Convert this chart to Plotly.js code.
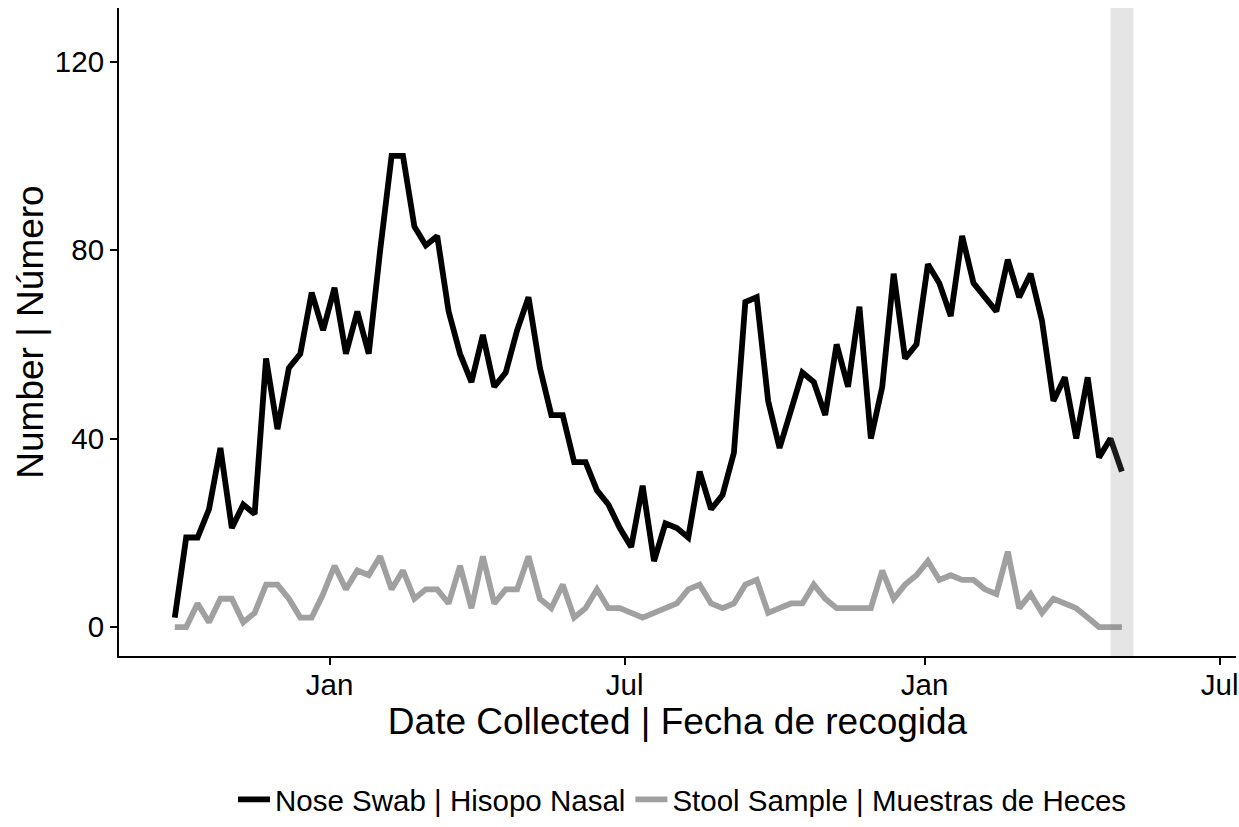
<!DOCTYPE html>
<html>
<head>
<meta charset="utf-8">
<script src="https://cdn.plot.ly/plotly-3.0.1.min.js"></script>
<style>
  html, body { margin: 0; padding: 0; background: #ffffff; }
  #chart { width: 1239px; height: 827px; }
</style>
</head>
<body>
<div id="chart"></div>
<script>
// Weekly collection dates (Mondays)
const weekDates = [
  '2020-09-28','2020-10-05','2020-10-12','2020-10-19','2020-10-26',
  '2020-11-02','2020-11-09','2020-11-16','2020-11-23','2020-11-30',
  '2020-12-07','2020-12-14','2020-12-21','2020-12-28',
  '2021-01-04','2021-01-11','2021-01-18','2021-01-25',
  '2021-02-01','2021-02-08','2021-02-15','2021-02-22',
  '2021-03-01','2021-03-08','2021-03-15','2021-03-22','2021-03-29',
  '2021-04-05','2021-04-12','2021-04-19','2021-04-26',
  '2021-05-03','2021-05-10','2021-05-17','2021-05-24','2021-05-31',
  '2021-06-07','2021-06-14','2021-06-21','2021-06-28',
  '2021-07-05','2021-07-12','2021-07-19','2021-07-26',
  '2021-08-02','2021-08-09','2021-08-16','2021-08-23','2021-08-30',
  '2021-09-06','2021-09-13','2021-09-20','2021-09-27',
  '2021-10-04','2021-10-11','2021-10-18','2021-10-25',
  '2021-11-01','2021-11-08','2021-11-15','2021-11-22','2021-11-29',
  '2021-12-06','2021-12-13','2021-12-20','2021-12-27',
  '2022-01-03','2022-01-10','2022-01-17','2022-01-24','2022-01-31',
  '2022-02-07','2022-02-14','2022-02-21','2022-02-28',
  '2022-03-07','2022-03-14','2022-03-21','2022-03-28',
  '2022-04-04','2022-04-11','2022-04-18','2022-04-25',
  '2022-05-02'
];

// Nose swab counts per week
const noseSwab = [
  2, 19, 19, 25, 38, 21, 26, 24, 57, 42,
  55, 58, 71, 63, 72, 58, 67, 58, 80, 100,
  100, 85, 81, 83, 67, 58, 52, 62, 51, 54,
  63, 70, 55, 45, 45, 35, 35, 29, 26, 21,
  17, 30, 14, 22, 21, 19, 33, 25, 28, 37,
  69, 70, 48, 38, 46, 54, 52, 45, 60, 51,
  68, 40, 51, 75, 57, 60, 77, 73, 66, 83,
  73, 70, 67, 78, 70, 75, 65, 48, 53, 40,
  53, 36, 40, 33
];

// Stool sample counts per week
const stoolSample = [
  0, 0, 5, 1, 6, 6, 1, 3, 9, 9,
  6, 2, 2, 7, 13, 8, 12, 11, 15, 8,
  12, 6, 8, 8, 5, 13, 4, 15, 5, 8,
  8, 15, 6, 4, 9, 2, 4, 8, 4, 4,
  3, 2, 3, 4, 5, 8, 9, 5, 4, 5,
  9, 10, 3, 4, 5, 5, 9, 6, 4, 4,
  4, 4, 12, 6, 9, 11, 14, 10, 11, 10,
  10, 8, 7, 16, 4, 7, 3, 6, 5, 4,
  2, 0, 0, 0
];

const seriesNames = ['Nose Swab | Hisopo Nasal', 'Stool Sample | Muestras de Heces'];
const seriesColors = ['#000000', '#a0a0a0'];

// Highlighted (incomplete) most recent week window
const highlightWindow = ['2022-04-25', '2022-05-09'];

// Axis ticks
const xTickVals = ['2021-01-01', '2021-07-01', '2022-01-01', '2022-07-01'];
const xTickText = ['Jan', 'Jul', 'Jan', 'Jul'];
const yTickVals = [0, 40, 80, 120];

const FONT = 'Liberation Sans, Arial, Helvetica, sans-serif';

const traces = [
  {
    x: weekDates, y: noseSwab, type: 'scatter', mode: 'lines',
    name: seriesNames[0],
    line: { color: seriesColors[0], width: 5.8 }
  },
  {
    x: weekDates, y: stoolSample, type: 'scatter', mode: 'lines',
    name: seriesNames[1],
    line: { color: seriesColors[1], width: 5.8 }
  }
];

const layout = {
  width: 1239, height: 827,
  paper_bgcolor: '#ffffff', plot_bgcolor: '#ffffff',
  margin: { l: 119, r: 3, t: 8, b: 170 },
  font: { family: FONT, color: '#000000' },
  showlegend: true,
  legend: {
    orientation: 'h', x: 0.5045, xanchor: 'center', y: -0.22, yanchor: 'middle',
    font: { family: FONT, size: 29.5, color: '#000000' },
    itemwidth: 32,
    bgcolor: 'rgba(0,0,0,0)'
  },
  xaxis: {
    type: 'date',
    range: ['2020-08-24 19:00', '2022-07-11'],
    tickmode: 'array', tickvals: xTickVals, ticktext: xTickText,
    ticks: 'outside', ticklen: 7, tickwidth: 2, tickcolor: '#000000',
    ticklabelstandoff: -5,
    showline: true, linecolor: '#000000', linewidth: 2,
    showgrid: false, zeroline: false,
    tickfont: { family: FONT, size: 29.5, color: '#000000' },
    title: { text: 'Date Collected | Fecha de recogida', font: { family: FONT, size: 37, color: '#000000' }, standoff: 0 }
  },
  yaxis: {
    range: [-6.15, 131.4],
    tickmode: 'array', tickvals: yTickVals,
    ticks: 'outside', ticklen: 7, tickwidth: 2, tickcolor: '#000000',
    showline: true, linecolor: '#000000', linewidth: 2,
    showgrid: false, zeroline: false,
    tickfont: { family: FONT, size: 29.5, color: '#000000' },
    title: { text: 'Number | Número', font: { family: FONT, size: 37, color: '#000000' }, standoff: 0 }
  },
  shapes: [
    {
      type: 'rect', xref: 'x', yref: 'paper',
      x0: highlightWindow[0], x1: highlightWindow[1], y0: 0, y1: 1,
      fillcolor: 'rgba(127,127,127,0.2)', line: { width: 0 }, layer: 'above'
    }
  ]
};

Plotly.newPlot('chart', traces, layout, { displayModeBar: false, staticPlot: true });
</script>
</body>
</html>
